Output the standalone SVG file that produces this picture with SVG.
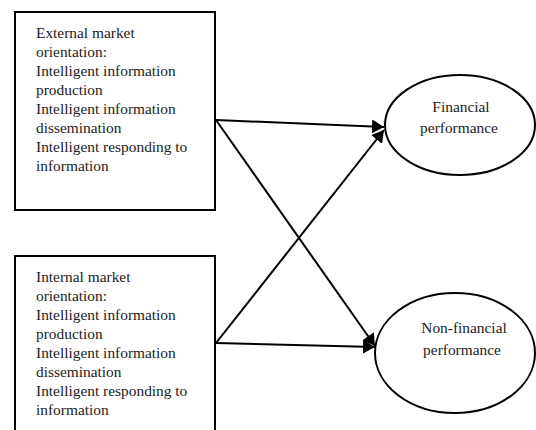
<svg xmlns="http://www.w3.org/2000/svg" width="536" height="430" viewBox="0 0 536 430">
<style>
.box{fill:#fff;stroke:#000;stroke-width:2}
.ell{fill:#fff;stroke:#000;stroke-width:2}
.t{font-family:"Liberation Serif","Times New Roman",serif;font-size:15.4px;fill:#222}
.c{text-anchor:middle}
.ln{stroke:#000;stroke-width:2;fill:none}
</style>
<defs>
<marker id="ah" markerUnits="userSpaceOnUse" markerWidth="14" markerHeight="14" refX="12" refY="7" orient="auto">
<path d="M0,0 L12,7 L0,14 Z" fill="#000"/>
</marker>
</defs>
<rect width="536" height="430" fill="#fff"/>
<g id="external">
<rect class="box" x="15" y="12" width="200" height="198"/>
<text class="t" x="36"><tspan x="36" y="38">External market</tspan><tspan x="36" y="57">orientation:</tspan><tspan x="36" y="76">Intelligent information</tspan><tspan x="36" y="95">production</tspan><tspan x="36" y="114">Intelligent information</tspan><tspan x="36" y="133">dissemination</tspan><tspan x="36" y="152">Intelligent responding to</tspan><tspan x="36" y="171">information</tspan></text>
</g>
<g id="internal">
<rect class="box" x="15" y="256" width="200" height="190"/>
<text class="t" x="36"><tspan x="36" y="282">Internal market</tspan><tspan x="36" y="301">orientation:</tspan><tspan x="36" y="320">Intelligent information</tspan><tspan x="36" y="339">production</tspan><tspan x="36" y="358">Intelligent information</tspan><tspan x="36" y="377">dissemination</tspan><tspan x="36" y="396">Intelligent responding to</tspan><tspan x="36" y="415">information</tspan></text>
</g>
<g id="financial">
<ellipse class="ell" cx="460" cy="125" rx="75" ry="50"/>
<text class="t c" x="461" y="112">Financial</text>
<text class="t c" x="459" y="133">performance</text>
</g>
<g id="nonfinancial">
<ellipse class="ell" cx="455" cy="353" rx="80" ry="60"/>
<text class="t c" x="464" y="333">Non-financial</text>
<text class="t c" x="462" y="355">performance</text>
</g>
<g id="connectors">
<line class="ln" x1="216" y1="120" x2="384" y2="127" marker-end="url(#ah)"/>
<line class="ln" x1="216" y1="120" x2="375" y2="346" marker-end="url(#ah)"/>
<line class="ln" x1="216" y1="343" x2="375" y2="347" marker-end="url(#ah)"/>
<line class="ln" x1="216" y1="343" x2="384" y2="130" marker-end="url(#ah)"/>
</g>
</svg>
